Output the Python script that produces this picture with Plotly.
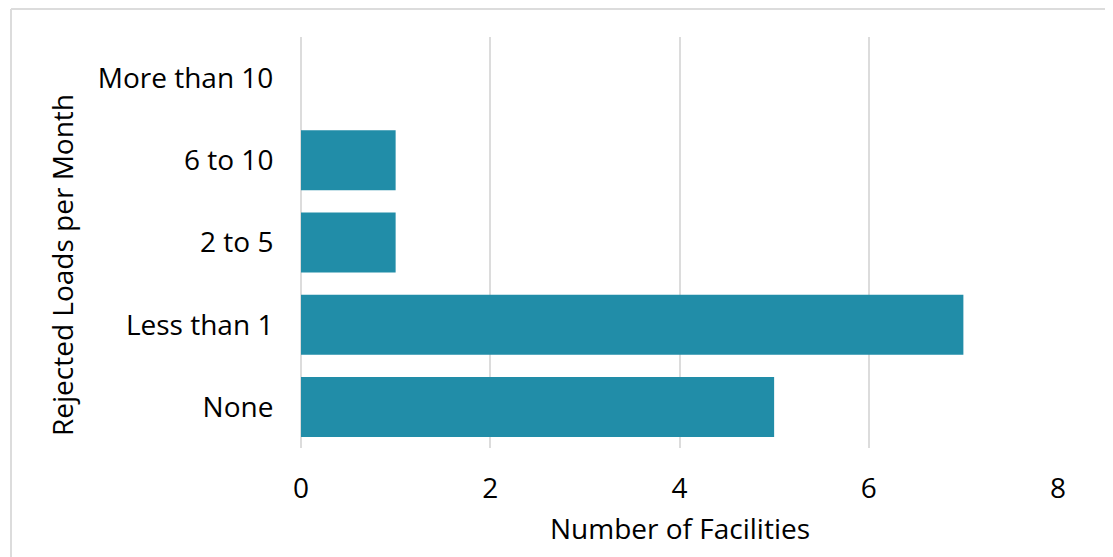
import plotly.graph_objects as go

categories = ["None", "Less than 1", "2 to 5", "6 to 10", "More than 10"]
facilities = [5, 7, 1, 1, 0]
x_ticks = [0, 2, 4, 6, 8]

# page body has an 8px margin; work in screenshot pixel coordinates
OFF = 8
W, H = 1105, 549
L, R, T, B = 301 - OFF, 55, 37 - OFF, 109
pw, ph = W - L - R, H - T - B

def px_x(p):
    return (p - OFF - L) / pw

def px_y(p):
    return (H - B - (p - OFF)) / ph

font_family = "'Open Sans', 'Noto Sans', sans-serif"
FS = 28

fig = go.Figure(go.Bar(
    x=facilities, y=categories, orientation="h",
    marker=dict(color="#218DA8", line=dict(width=0)),
))

fig.update_layout(
    width=W, height=H,
    margin=dict(l=L, r=R, t=T, b=B, pad=0),
    paper_bgcolor="white", plot_bgcolor="white",
    bargap=0.27,
    showlegend=False,
    font=dict(family=font_family, size=FS, color="#000000"),
    xaxis=dict(
        range=[0, 8], tickvals=x_ticks, showgrid=True, gridcolor="#DCDCDC", gridwidth=2,
        zeroline=True, zerolinecolor="#DCDCDC", zerolinewidth=2, showline=False,
        ticks="outside", ticklen=15, tickcolor="rgba(0,0,0,0)",
        tickfont=dict(size=FS, color="#000000"),
    ),
    yaxis=dict(
        categoryorder="array", categoryarray=categories, range=[-0.5, 4.5],
        showgrid=False, zeroline=False, showline=False,
        ticks="outside", ticklen=21, tickcolor="rgba(0,0,0,0)",
        tickfont=dict(size=FS, color="#000000"),
    ),
    annotations=[
        dict(text="Number of Facilities", xref="paper", yref="paper",
             x=px_x(679.5), y=px_y(528), xanchor="center", yanchor="middle",
             showarrow=False, font=dict(size=FS, color="#000000")),
        dict(text="Rejected Loads per Month", xref="paper", yref="paper",
             x=px_x(62), y=px_y(265), xanchor="center", yanchor="middle",
             textangle=-90, showarrow=False, font=dict(size=FS, color="#000000")),
    ],
    shapes=[
        dict(type="line", xref="paper", yref="paper",
             x0=px_x(11), x1=px_x(1130), y0=px_y(9), y1=px_y(9),
             line=dict(color="#DCDCDC", width=2)),
        dict(type="line", xref="paper", yref="paper",
             x0=px_x(11), x1=px_x(11), y0=px_y(9), y1=px_y(570),
             line=dict(color="#DCDCDC", width=2)),
    ],
)

fig.write_html("out.html")
